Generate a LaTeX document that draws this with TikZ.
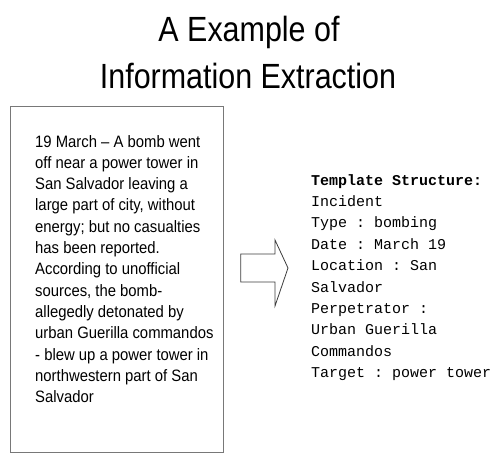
\documentclass[tikz,border=0pt]{standalone}
\usepackage{fontspec}
\newfontfamily\titlefont{Liberation Sans}[FakeStretch=0.87]
\newfontfamily\storyfont{Liberation Sans}[FakeStretch=0.9,Ligatures=TeX]
\newfontfamily\slotfont{Liberation Mono}
\definecolor{frame}{RGB}{120,120,120}
\definecolor{arrowline}{RGB}{60,60,60}
\begin{document}
\begin{tikzpicture}[x=1pt,y=-1pt,
  titletext/.style={anchor=base, inner sep=0, font=\titlefont\fontsize{35}{47}\selectfont},
  storyframe/.style={draw=frame, line width=1.2pt, anchor=north west, inner sep=0,
    minimum width=213.5pt, minimum height=346pt},
  bodytext/.style={anchor=base west, inner sep=0},
  blockarrow/.style={draw=arrowline, line width=0.8pt, fill=white, line join=miter}]
\useasboundingbox (0,0) rectangle (493,455);
\fill[white] (0,0) rectangle (493,455);

% heading
\node[titletext] (title1) at (249,41) {A Example of};
\node[titletext] (title2) at (248,88) {Information Extraction};

% news story
\node[storyframe] (storybox) at (9.5,106) {};
\node[bodytext] (story) at (35,147) {\parbox[t]{185pt}{\raggedright\frenchspacing
  \storyfont\fontsize{16.5}{21.3}\selectfont
  19 March – A bomb went\\
  off near a power tower in\\
  San Salvador leaving a\\
  large part of city, without\\
  energy; but no casualties\\
  has been reported.\\
  According to unofficial\\
  sources, the bomb-\\
  allegedly detonated by\\
  urban Guerilla commandos\\
  - blew up a power tower in\\
  northwestern part of San\\
  Salvador}};

% extraction arrow
\draw[blockarrow] (240.7,254) -- (275,254) -- (275,240) -- (288,268)
  -- (275,306) -- (275,282) -- (240.7,282) -- cycle;

% filled template
\node[bodytext] (template) at (311,185) {\parbox[t]{185pt}{\raggedright\frenchspacing
  \slotfont\fontsize{15}{21.4}\selectfont
  \textbf{Template Structure:}\\
  Incident\\
  Type : bombing\\
  Date : March 19\\
  Location : San\\
  Salvador\\
  Perpetrator :\\
  Urban Guerilla\\
  Commandos\\
  Target : power tower}};
\end{tikzpicture}
\end{document}
